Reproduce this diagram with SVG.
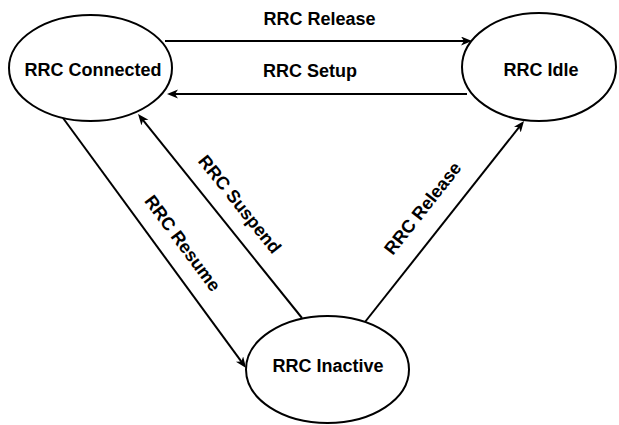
<svg xmlns="http://www.w3.org/2000/svg" width="619" height="425" viewBox="0 0 619 425">
<style>
.node{fill:#fff;stroke:#000;stroke-width:2}
.lbl{font-family:"Liberation Sans",Arial,sans-serif;font-weight:bold;font-size:18px;fill:#000;text-anchor:middle}
.edge{fill:none;stroke:#000;stroke-width:2;marker-end:url(#arr)}
</style>
<defs>
<marker id="arr" markerUnits="userSpaceOnUse" markerWidth="12" markerHeight="10" viewBox="0 0 12 10" refX="5" refY="4.5" orient="auto">
<path d="M0,0 L11,4.5 L0,9 L3,4.5 Z" fill="#000"/>
</marker>
</defs>
<rect width="619" height="425" fill="#fff"/>
<g id="connectors">
<line class="edge" x1="165" y1="41" x2="466" y2="41"/>
<line class="edge" x1="467" y1="94" x2="173" y2="94"/>
<line class="edge" x1="63" y1="118" x2="242.5" y2="363.2"/>
<line class="edge" x1="302" y1="318" x2="141.8" y2="118.7"/>
<line class="edge" x1="365" y1="322" x2="520.3" y2="125.7"/>
<text class="lbl" x="319.5" y="25">RRC Release</text>
<text class="lbl" x="310" y="77">RRC Setup</text>
<text class="lbl" transform="translate(183,243) rotate(53.5)" y="6.5">RRC Resume</text>
<text class="lbl" transform="translate(240,204) rotate(51.2)" y="6.5">RRC Suspend</text>
<text class="lbl" transform="translate(422.5,208) rotate(-51.7)" y="6.5">RRC Release</text>
</g>
<g id="node-connected">
<ellipse class="node" cx="90.5" cy="68" rx="81.5" ry="53"/>
<text class="lbl" x="93" y="76">RRC Connected</text>
</g>
<g id="node-idle">
<ellipse class="node" cx="539" cy="67" rx="77" ry="54"/>
<text class="lbl" x="541" y="76">RRC Idle</text>
</g>
<g id="node-inactive">
<ellipse class="node" cx="327.5" cy="369.5" rx="81.5" ry="53.5"/>
<text class="lbl" x="328" y="372">RRC Inactive</text>
</g>
</svg>
